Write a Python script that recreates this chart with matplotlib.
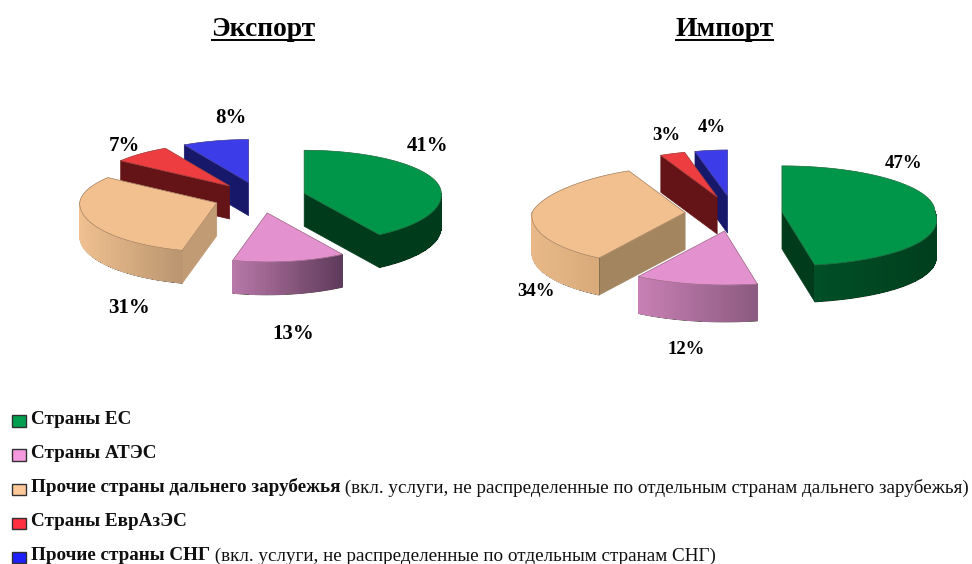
import numpy as np
import matplotlib
matplotlib.use('Agg')
import matplotlib.pyplot as plt
from matplotlib.colors import to_rgb
from matplotlib.patches import Polygon, Rectangle

# Data
legend_bold = ['Страны ЕС', 'Страны АТЭС', 'Прочие страны дальнего зарубежья', 'Страны ЕврАзЭС', 'Прочие страны СНГ']
legend_rest = ['', '',
               ' (вкл. услуги, не распределенные по отдельным странам дальнего зарубежья)',
               '',
               ' (вкл. услуги, не распределенные по отдельным странам СНГ)']
export_values = [41, 13, 31, 7, 8]
import_values = [47, 12, 34, 3, 4]

# Colours per slice
top_colors = ['#00964a', '#e492cf', '#f2bf8f', '#ee3d40', '#3c3ce8']
legend_colors = ['#00a050', '#f59ade', '#ffc898', '#ff3040', '#2020ff']
face_colors = ['#003c1c', '#b878a8', '#c09b74', '#641416', '#17186a']
export_rim = [('#003c1c', '#003c1c'), ('#b878a8', '#5e3a5a'), ('#f0c090', '#b8946e'), ('#641416', '#641416'), ('#17186a', '#17186a')]
import_rim = [('#004f26', '#003e1d'), ('#c880b4', '#8a5a80'), ('#e8b888', '#d8aa7a'), ('#641416', '#641416'), ('#17186a', '#17186a')]
import_faces = ['#003c1c', '#b878a8', '#a38660', '#641416', '#17186a']

DRAW_ORDER = [4, 3, 0, 2, 1]


def rim_point(apex, shape, a):
    # back of the pie is a bit flatter and narrower than the front, like the 3D original
    rx, ry_back, ry_front, narrow = shape
    a = np.asarray(a, dtype=float)
    ry = np.where(np.cos(a) > 0, ry_back, ry_front)
    scale = 1 - narrow * np.cos(a)
    scale = np.where((np.sin(a) > 0) & (np.cos(a) > 0), 1.0, scale)
    scale = np.where((np.sin(a) < 0) & (np.cos(a) < 0), 1 - 0.4 * narrow * np.cos(a), scale)
    return apex[0] + rx * scale * np.sin(a), apex[1] - ry * np.cos(a)


def draw_pie(ax, values, center, shape, depth, explode, rims, faces):
    edges = np.cumsum([0] + values) / sum(values) * 2 * np.pi
    for i in DRAW_ORDER:
        a0, a1 = edges[i], edges[i + 1]
        mid = (a0 + a1) / 2
        apex = (center[0] + explode[0] * np.sin(mid), center[1] - explode[1] * np.cos(mid))

        # flat cut faces, only those turned to the viewer
        for a, visible in ((a0, np.sin(a0) < -1e-6), (a1, np.sin(a1) > 1e-6)):
            if visible:
                x, y = rim_point(apex, shape, a)
                ax.add_patch(Polygon([apex, (x, y), (x, y + depth), (apex[0], apex[1] + depth)],
                                     fc=faces[i], ec=faces[i], lw=0.5))

        # outer wall as thin strips, so it can carry a gradient
        lo, hi = max(a0, np.pi / 2), min(a1, 3 * np.pi / 2)
        if hi > lo:
            ang = np.linspace(lo, hi, 70)
            xs, ys = rim_point(apex, shape, ang)
            c_left, c_right = to_rgb(rims[i][0]), to_rgb(rims[i][1])
            outline = list(zip(xs, ys)) + list(zip(xs[::-1], ys[::-1] + depth))
            ax.add_patch(Polygon(outline, fc=rims[i][1], ec='#4a4038', lw=0.5))
            order = np.argsort(xs)
            xs, ys = xs[order], ys[order]
            for j in range(len(xs) - 2):
                t = (xs[j] - xs[0]) / (xs[-1] - xs[0])
                col = [c_left[k] + (c_right[k] - c_left[k]) * t for k in range(3)]
                ax.add_patch(Polygon([(xs[j], ys[j]), (xs[j + 2], ys[j + 2]),
                                      (xs[j + 2], ys[j + 2] + depth - 0.5), (xs[j], ys[j] + depth - 0.5)],
                                     fc=col, ec='none', lw=0, antialiased=False))

        # top of the slice
        ang = np.linspace(a0, a1, 80)
        xs, ys = rim_point(apex, shape, ang)
        ax.add_patch(Polygon([apex] + list(zip(xs, ys)), fc=top_colors[i], ec=top_colors[i], lw=0.5))
        ax.plot(list(xs) + [apex[0], xs[0]], list(ys) + [apex[1], ys[0]], color='#50443a', lw=0.4, alpha=0.6)


fig = plt.figure(figsize=(9.72, 5.64), dpi=100)
ax = fig.add_axes([0, 0, 1, 1])
ax.set_xlim(0, 972)
ax.set_ylim(564, 0)
ax.axis('off')
plt.rcParams['font.family'] = ['Liberation Serif', 'DejaVu Serif']

draw_pie(ax, export_values, (260, 197.6), (137, 43, 49, 0.03), 33, (46, 15.5), export_rim, face_colors)
draw_pie(ax, import_values, (733.6, 213.6), (153, 46, 54, 0.15), 37, (48.6, 17.7), import_rim, import_faces)

renderer = fig.canvas.get_renderer()
inv = ax.transData.inverted()


def text_box(t):
    box = t.get_window_extent(renderer)
    return inv.transform((box.x0, box.y0)), inv.transform((box.x1, box.y1))


# Titles, underlined by hand
for label, x in (('Экспорт', 263), ('Импорт', 724.5)):
    t = ax.text(x, 29, label, fontsize=19.8, fontweight='bold', ha='center', va='center', color='black')
    (x0, y0), (x1, y1) = text_box(t)
    ax.plot([x0, x1], [40, 40], color='black', lw=1.4, solid_capstyle='butt')

# Percent labels
export_label_xy = [(428, 146), (293, 334), (129, 308), (124, 146), (231, 118)]
import_label_xy = [(904, 163), (686, 350), (536, 292), (666, 136), (712, 128)]
for values, spots, size in ((export_values, export_label_xy, 15), (import_values, import_label_xy, 13.5)):
    for v, (x, y) in zip(values, spots):
        ax.text(x, y, f'{v}%', fontsize=size, fontweight='bold', ha='center', va='center', color='black')

# Legend
legend_y = [424, 458, 492.5, 526.5, 560.5]
for bold, rest, col, y in zip(legend_bold, legend_rest, legend_colors, legend_y):
    ax.add_patch(Rectangle((12, y - 9), 13.5, 11.5, fc=col, ec='#303030', lw=1))
    t = ax.text(31, y, bold, fontsize=13.75, fontweight='bold', ha='left', va='baseline', color='#101010')
    if rest:
        (x0, y0), (x1, y1) = text_box(t)
        ax.text(x1, y, rest, fontsize=13.75, ha='left', va='baseline', color='#101010')

plt.savefig('out.png', dpi=100)
